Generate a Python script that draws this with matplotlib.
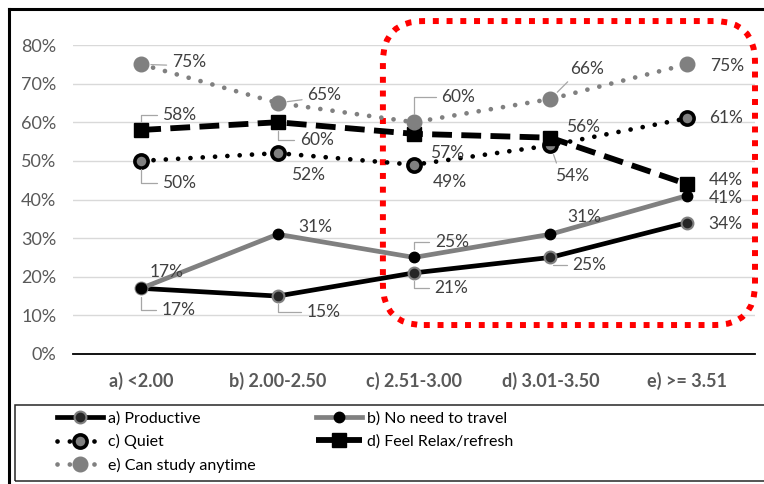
import matplotlib
matplotlib.use("Agg")
import matplotlib.pyplot as plt
from matplotlib.patches import FancyBboxPatch, Rectangle
from matplotlib.lines import Line2D

plt.rcParams['font.family'] = ['Lato', 'DejaVu Sans']

groups = ['a) <2.00', 'b) 2.00-2.50', 'c) 2.51-3.00', 'd) 3.01-3.50', 'e) >= 3.51']
productive = [17, 15, 21, 25, 34]
no_travel = [17, 31, 25, 31, 41]
quiet = [50, 52, 49, 54, 61]
relax = [58, 60, 57, 56, 44]
anytime = [75, 65, 60, 66, 75]
names = ['a) Productive', 'b) No need to travel', 'c) Quiet',
         'd) Feel Relax/refresh', 'e) Can study anytime']

GREY = '#808080'
TXT = '#404040'

W, H = 764, 484
fig = plt.figure(figsize=(W / 100, H / 100), dpi=100)
ax = fig.add_axes([73 / W, 130 / H, 682 / W, 309 / H])
x = list(range(len(groups)))

styles = [
    dict(color='black', lw=3.4, marker='o', ms=8.5, mfc='#262626', mec=GREY, mew=1.5),
    dict(color=GREY, lw=3.4, marker='o', ms=7.5, mfc='black', mec='black', mew=1),
    dict(color='black', lw=3.4, marker='o', ms=9.5, mfc=GREY, mec='black', mew=2.6,
         dashes=(0.01, 2.6), dash_capstyle='round'),
    dict(color='black', lw=4.2, marker='s', ms=9.5, mfc='black', mec='black',
         dashes=(3.4, 1.6), dash_capstyle='butt'),
    dict(color=GREY, lw=3.4, marker='o', ms=10.5, mfc=GREY, mec=GREY,
         dashes=(0.01, 2.6), dash_capstyle='round'),
]
series = [productive, no_travel, quiet, relax, anytime]
handles = []
for vals, st, nm in zip(series, styles, names):
    h, = ax.plot(x, vals, label=nm, zorder=3, **st)
    handles.append(h)

# label offsets in pixels (dx, dy) and leader line type
offsets = [
    [(37, -22), (46, -16), (37, -15), (39, -8), (39, -1)],
    [(25, 16), (38, 7), (38, 15), (34, 17), (39, -2)],
    [(38, -22), (30, -22), (36, -17), (22, -31), (39, 0)],
    [(38, 15), (39, -18), (33, -19), (33, 11), (39, 4)],
    [(48, 2), (47, 8), (44, 25), (37, 30), (40, -2)],
]
leaders = [
    ['elbow', 'elbow', 'elbow', 'elbow', None],
    [None, None, 'elbow', None, None],
    ['elbow', None, None, 'line', None],
    ['elbow', 'elbow', None, None, None],
    ['line', 'line', 'elbow', 'line', None],
]
for vals, offs, lds in zip(series, offsets, leaders):
    for i, v in enumerate(vals):
        dx, dy = offs[i]
        kw = {}
        if lds[i] == 'elbow':
            kw['arrowprops'] = dict(arrowstyle='-', color='#a6a6a6', lw=0.9,
                                    connectionstyle='angle,angleA=0,angleB=90,rad=0',
                                    relpos=(0, 0.5), shrinkA=2, shrinkB=6)
        elif lds[i] == 'line':
            kw['arrowprops'] = dict(arrowstyle='-', color='#a6a6a6', lw=0.9,
                                    relpos=(0.2, 0.3), shrinkA=2, shrinkB=7)
        ax.annotate(f'{v}%', (i, v), xytext=(dx, dy), textcoords='offset pixels',
                    ha='center', va='center', fontsize=12.5, color=TXT, zorder=5, **kw)

ax.set_xlim(-0.5, 4.5)
ax.set_ylim(0, 80)
ax.set_yticks(range(0, 81, 10))
ax.set_yticklabels([f'{t}%' for t in range(0, 81, 10)])
ax.set_xticks(x)
ax.set_xticklabels(groups, fontweight='bold')
ax.tick_params(axis='both', length=0, colors='#595959', labelsize=13)
ax.tick_params(axis='x', pad=13)
ax.tick_params(axis='y', pad=12)
ax.grid(axis='y', color='#d9d9d9', lw=1)
ax.set_axisbelow(True)
for s in ['top', 'right', 'left']:
    ax.spines[s].set_visible(False)
ax.spines['bottom'].set_color('black')
ax.spines['bottom'].set_linewidth(1.3)

# red highlight box around the upper GPA groups
box = FancyBboxPatch((1.772, 7.5), 4.5 - 1.772, 86.2 - 7.5,
                     boxstyle='round,pad=0,rounding_size=0.3', mutation_aspect=35.3,
                     fill=False, ec='red', lw=4.3, linestyle=(0, (1, 1.3)),
                     clip_on=False, zorder=2)
ax.add_patch(box)

# outer frame and legend frame
fig.add_artist(Line2D([9 / W, 9 / W], [0, 1 - 9 / H], color='black', lw=2.2,
                      transform=fig.transFigure))
fig.add_artist(Line2D([9 / W, 1], [1 - 9 / H, 1 - 9 / H], color='black', lw=2.2,
                      transform=fig.transFigure))
fig.add_artist(Rectangle((15 / W, 1 - 481 / H), 1, 76 / H, fill=False, ec='#262626',
                         lw=1.1, transform=fig.transFigure))

order = [0, 2, 4, 1, 3]
fig.legend([handles[k] for k in order], [names[k] for k in order], ncol=2,
           loc='upper left', bbox_to_anchor=(47 / W, 1 - 402 / H), frameon=False,
           fontsize=11.5, handlelength=2.9, handletextpad=0.3, columnspacing=3.8,
           labelspacing=0.52, borderpad=0.1, numpoints=1, labelcolor='black')

fig.savefig('out.png', dpi=100)
